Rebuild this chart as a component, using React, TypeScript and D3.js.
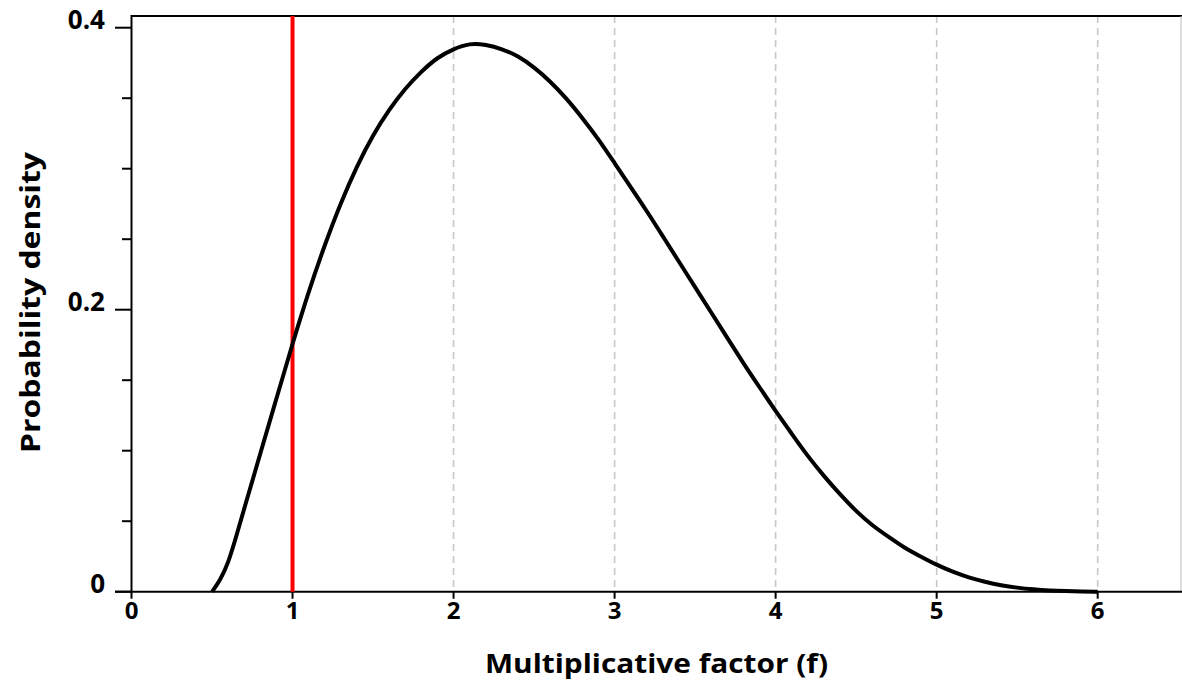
import * as d3 from 'd3'

// density curve (x = multiplicative factor f)
const fValues = [
  0.5, 0.55, 0.6, 0.65, 0.7, 0.8, 0.9, 1.0, 1.1, 1.2, 1.3, 1.4, 1.5, 1.6, 1.7, 1.8, 1.9, 2.0,
  2.1, 2.2, 2.3, 2.4, 2.5, 2.6, 2.7, 2.8, 2.9, 3.0, 3.1, 3.2, 3.3, 3.4, 3.5, 3.6, 3.7, 3.8,
  3.9, 4.0, 4.1, 4.2, 4.3, 4.4, 4.5, 4.6, 4.7, 4.8, 4.9, 5.0, 5.1, 5.2, 5.3, 5.4, 5.5, 5.6,
  5.7, 5.8, 5.9, 6.0,
]
const densityValues = [
  0, 0.008, 0.02, 0.039, 0.059, 0.098, 0.137, 0.176, 0.213, 0.246, 0.276, 0.302, 0.324, 0.342,
  0.357, 0.369, 0.379, 0.385, 0.389, 0.388, 0.385, 0.38, 0.372, 0.362, 0.35, 0.336, 0.321,
  0.304, 0.287, 0.27, 0.252, 0.234, 0.216, 0.198, 0.18, 0.162, 0.145, 0.128, 0.112, 0.096,
  0.082, 0.069, 0.057, 0.047, 0.039, 0.031, 0.025, 0.019, 0.014, 0.01, 0.007, 0.0045, 0.0028,
  0.0016, 0.0008, 0.0004, 0.0001, 0,
]

const xTicks = [0, 1, 2, 3, 4, 5, 6]
const xGridLines = [2, 3, 4, 5, 6]
const yMajorTicks = [0, 0.2, 0.4]
const yMinorTicks = [0.05, 0.1, 0.15, 0.25, 0.3, 0.35]
const referenceLine = 1

const width = 1182
const height = 690
const left = 131.5
const top = 16
const bottom = 591.7
const right = 1182

const fontFamily = '"Open Sans", "Noto Sans", sans-serif'

export default function App() {
  const x = d3.scaleLinear().domain([0, 6.5236]).range([left, right])
  const y = d3.scaleLinear().domain([0, 0.4083]).range([bottom, top])

  const points = fValues.map((f, i) => [f, densityValues[i]] as [number, number])
  const line = d3
    .line<[number, number]>()
    .x((d) => x(d[0]))
    .y((d) => y(d[1]))
    .curve(d3.curveBasis)

  return (
    <svg
      width={width}
      height={height}
      style={{ position: 'absolute', left: 0, top: 0, background: '#fff' }}
    >
      {/* dashed vertical grid */}
      {xGridLines.map((v) => (
        <line
          key={`g${v}`}
          x1={x(v)}
          x2={x(v)}
          y1={top}
          y2={bottom}
          stroke="#c8c8c8"
          strokeWidth={1.6}
          strokeDasharray="7 5"
        />
      ))}

      {/* frame */}
      <line x1={left} x2={right} y1={top} y2={top} stroke="#000" strokeWidth={2} />
      <line x1={right - 1} x2={right - 1} y1={top} y2={bottom} stroke="#bbb" strokeWidth={1} />
      <line x1={left} x2={left} y1={top - 1} y2={bottom} stroke="#000" strokeWidth={2} />
      <line x1={115} x2={right} y1={bottom} y2={bottom} stroke="#000" strokeWidth={2} />

      {/* y ticks */}
      {yMajorTicks.map((v) => (
        <g key={`ym${v}`}>
          <line x1={115} x2={left} y1={y(v)} y2={y(v)} stroke="#000" strokeWidth={2} />
          <text
            x={105}
            y={y(v) + 1}
            textAnchor="end"
            fontFamily={fontFamily}
            fontWeight="bold"
            fontSize={26}
            fill="#000"
          >
            {v === 0 ? '0' : d3.format('.1f')(v)}
          </text>
        </g>
      ))}
      {yMinorTicks.map((v) => (
        <line key={`yn${v}`} x1={122} x2={left} y1={y(v)} y2={y(v)} stroke="#000" strokeWidth={2} />
      ))}

      {/* x ticks */}
      {xTicks.map((v) => (
        <g key={`x${v}`}>
          <line x1={x(v)} x2={x(v)} y1={bottom} y2={bottom + 7} stroke="#000" strokeWidth={2} />
          <text
            x={x(v)}
            y={619}
            textAnchor="middle"
            fontFamily={fontFamily}
            fontWeight="bold"
            fontSize={24}
            fill="#000"
          >
            {v}
          </text>
        </g>
      ))}

      {/* reference line at f = 1 */}
      <line
        x1={x(referenceLine)}
        x2={x(referenceLine)}
        y1={top}
        y2={bottom}
        stroke="#ff0000"
        strokeWidth={4}
      />

      {/* density curve */}
      <path d={line(points) ?? ''} fill="none" stroke="#000" strokeWidth={4} strokeLinejoin="round" />

      {/* axis titles */}
      <text
        x={656.5}
        y={673}
        textAnchor="middle"
        fontFamily={fontFamily}
        fontWeight="bold"
        fontSize={27}
        textLength={343}
        lengthAdjust="spacingAndGlyphs"
        fill="#000"
      >
        Multiplicative factor (f)
      </text>
      <text
        transform="translate(40, 302.5) rotate(-90)"
        textAnchor="middle"
        fontFamily={fontFamily}
        fontWeight="bold"
        fontSize={26}
        textLength={301}
        lengthAdjust="spacingAndGlyphs"
        fill="#000"
      >
        Probability density
      </text>
    </svg>
  )
}
